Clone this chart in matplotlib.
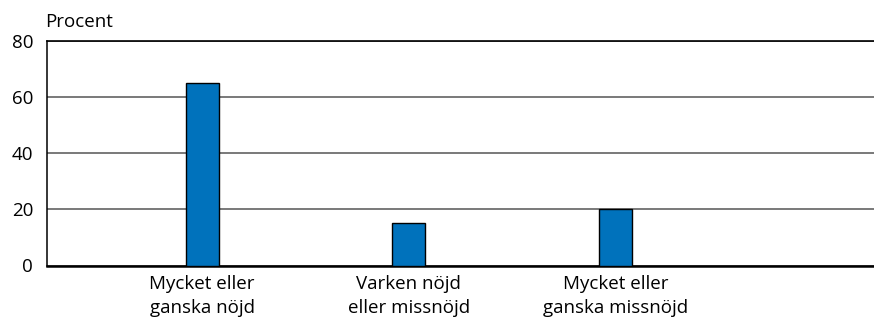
import matplotlib.pyplot as plt

categories = ["Mycket eller\nganska nöjd", "Varken nöjd\neller missnöjd", "Mycket eller\nganska missnöjd"]
values = [65, 15, 20]
yticks = [0, 20, 40, 60, 80]

plt.rcParams['font.family'] = ['Open Sans', 'DejaVu Sans']

fig = plt.figure(figsize=(8.74, 3.21), dpi=100)
ax = fig.add_axes([47/874, 1 - 265.5/321, 827/874, 224.5/321])

x = range(len(categories))
ax.bar(x, values, width=0.16, color='#0072BC', edgecolor='black', linewidth=1, zorder=3)

ax.set_xlim(-0.75, 3.25)
ax.set_ylim(0, 80)
ax.set_yticks(yticks)
ax.set_yticklabels([str(t) for t in yticks], fontsize=13.5)
ax.set_xticks(list(x))
ax.set_xticklabels(categories, fontsize=13.5, linespacing=1.4)
ax.tick_params(axis='y', length=0, pad=10)
ax.tick_params(axis='x', length=0, pad=7)
ax.yaxis.grid(True, color='#555555', linewidth=1.1, zorder=0)

ax.spines['right'].set_visible(False)
ax.spines['top'].set_linewidth(1.2)
ax.spines['left'].set_linewidth(1.1)
ax.spines['bottom'].set_linewidth(1.8)

fig.text(45/874, 1 - 22/321, "Procent", fontsize=13.5, va='center', ha='left')

fig.savefig("out.png", dpi=100)
